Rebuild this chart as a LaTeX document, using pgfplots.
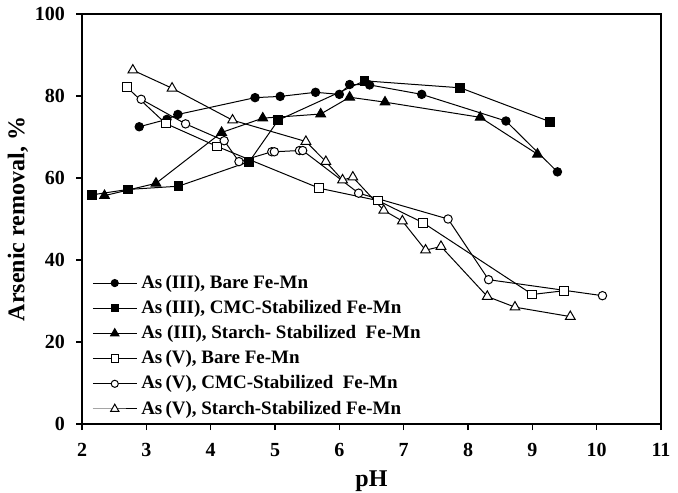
\documentclass[border=0pt]{standalone}
\usepackage{fontspec}
\setmainfont{Liberation Serif}
\usepackage{pgfplots}
\pgfplotsset{compat=1.18}
\begin{document}
\begin{tikzpicture}
\begin{axis}[
 scale only axis, width=289.5pt, height=205pt,
 xmin=2, xmax=11, ymin=0, ymax=100,
 xtick={2,...,11}, ytick={0,20,...,100},
 tick align=outside, xtick pos=bottom, ytick pos=left,
 major tick length=3pt,
 axis line style={line width=0.8pt},
 every tick/.style={black, line width=0.6pt},
 /pgf/number format/assume math mode=true,
 ticklabel style={font=\bfseries\fontsize{10}{12}\selectfont},
 xticklabel style={yshift=-3pt},
 yticklabel style={xshift=-2pt},
 xlabel={pH}, ylabel={Arsenic removal, \%},
 label style={font=\bfseries\fontsize{12}{14}\selectfont},
 xlabel style={yshift=0pt},
 ylabel style={yshift=-3.5pt},
 legend style={at={(axis cs:2.06,38.4)}, anchor=north west, draw=none, fill=none,
   font=\bfseries\fontsize{9.5}{11}\selectfont, row sep=0.5pt},
 legend cell align=left,
 legend image code/.code={\draw[mark repeat=2,mark phase=2,mark size=0.85*\pgfplotmarksize] plot coordinates {(0pt,0pt) (11pt,0pt) (22pt,0pt)};},
 every axis plot/.append style={black, line width=0.5pt},
]
\addplot[mark=*, mark size=2.1pt, mark options={solid, fill=black}] coordinates {
 (2.89,72.5) (3.32,74.3) (3.49,75.5) (4.69,79.6) (5.08,79.9) (5.63,80.9) (6.00,80.4) (6.16,82.8) (6.47,82.7) (7.28,80.4) (8.59,73.9) (9.39,61.5)};
\addlegendentry{As\,(III), Bare Fe-Mn}
\addplot[mark=square*, mark size=2.2pt, mark options={solid, fill=black}] coordinates {
 (2.16,55.9) (2.71,57.2) (3.50,58.0) (4.60,64.0) (5.05,74.1) (6.39,83.7) (7.88,82.0) (9.28,73.7)};
\addlegendentry{As\,(III), CMC-Stabilized Fe-Mn}
\addplot[mark=triangle*, mark size=2.8pt, mark options={solid, fill=black}] coordinates {
 (2.35,55.7) (3.15,58.7) (4.17,71.1) (4.81,74.6) (5.71,75.6) (6.16,79.7) (6.71,78.5) (8.19,74.8) (9.08,65.8)};
\addlegendentry{As (III), Starch- Stabilized\ \ Fe-Mn}
\addplot[mark=square*, mark size=2.2pt, mark options={solid, fill=white}] coordinates {
 (2.70,82.1) (3.30,73.3) (4.10,67.7) (5.69,57.5) (6.60,54.5) (7.30,49.1) (9.00,31.6) (9.49,32.5)};
\addlegendentry{As\,(V), Bare Fe-Mn}
\addplot[mark=*, mark size=2.1pt, mark options={solid, fill=white}] coordinates {
 (2.92,79.2) (3.61,73.2) (4.21,69.1) (4.44,64.0) (4.95,66.4) (4.99,66.4) (5.38,66.7) (5.43,66.7) (6.30,56.3) (7.69,50.0) (8.32,35.2) (10.09,31.3)};
\addlegendentry{As\,(V), CMC-Stabilized\ \ Fe-Mn}
\addplot[mark=triangle*, mark size=2.8pt, mark options={solid, fill=white}] coordinates {
 (2.79,86.3) (3.40,81.9) (4.34,74.1) (5.48,68.9) (5.79,64.0) (6.05,59.5) (6.21,60.2) (6.69,52.1) (6.98,49.5) (7.34,42.4) (7.58,43.3) (8.30,31.1) (8.73,28.5) (9.59,26.2)};
\addlegendentry{As\,(V), Starch-Stabilized Fe-Mn}
\coordinate (ll) at (rel axis cs:0,0);
\coordinate (ur) at (rel axis cs:1,1);
\end{axis}
\pgfresetboundingbox
\path[use as bounding box] ([shift={(-41pt,-34pt)}]ll) rectangle ([shift={(8.5pt,7pt)}]ur);
\end{tikzpicture}
\end{document}
